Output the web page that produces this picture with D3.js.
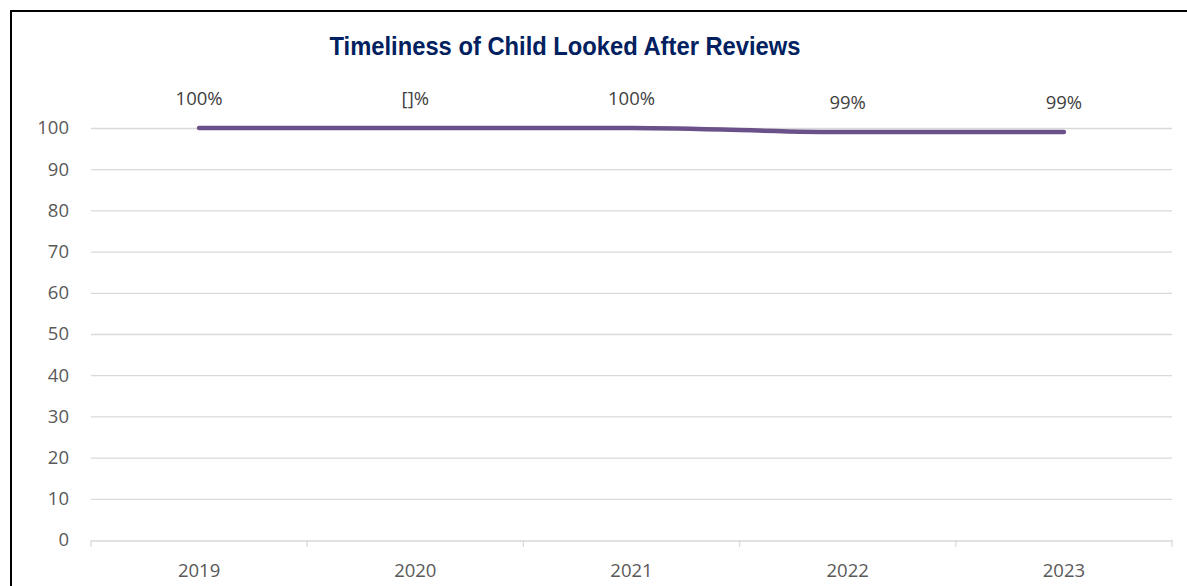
<!DOCTYPE html>
<html>
<head>
<meta charset="utf-8">
<script src="https://d3js.org/d3.v7.min.js"></script>
<style>
  body { margin: 0; background: #fff; }
  svg { display: block; }
</style>
</head>
<body>
<svg id="chart" width="1187" height="586"></svg>
<script>
const title = "Timeliness of Child Looked After Reviews";
const categories = ["2019", "2020", "2021", "2022", "2023"];
const values = [100, 100, 100, 99, 99];
const labels = ["100%", "[]%", "100%", "99%", "99%"];
const yTicks = [0, 10, 20, 30, 40, 50, 60, 70, 80, 90, 100];

const svg = d3.select("#chart");
const W = 1187, H = 586;
const m = { left: 91, right: 1172, top: 128, bottom: 540 };
const font = "'Open Sans', sans-serif";
const textColor = "#595959";
const gridColor = "#d9d9d9";
const fs = 18.5;

svg.append("rect").attr("width", W).attr("height", H).attr("fill", "#fff");

// frame (only top and left visible)
svg.append("line").attr("x1", 10).attr("x2", W).attr("y1", 11).attr("y2", 11)
  .attr("stroke", "#000").attr("stroke-width", 2);
svg.append("line").attr("x1", 11).attr("x2", 11).attr("y1", 10).attr("y2", H)
  .attr("stroke", "#000").attr("stroke-width", 2);

const x = d3.scaleBand().domain(categories).range([m.left, m.right]);
const y = d3.scaleLinear().domain([0, 100]).range([m.bottom, m.top]);

// gridlines
svg.append("g").selectAll("line").data(yTicks.filter(d => d !== 0)).join("line")
  .attr("x1", m.left).attr("x2", m.right)
  .attr("y1", d => y(d) + 0.5).attr("y2", d => y(d) + 0.5)
  .attr("stroke", gridColor).attr("stroke-width", 1.3);

// y axis labels
svg.append("g").selectAll("text").data(yTicks).join("text")
  .attr("x", 69).attr("y", d => y(d)).attr("dy", "0.35em")
  .attr("text-anchor", "end").attr("font-family", font).attr("font-size", fs)
  .attr("fill", textColor).text(d => d);

// x axis
const xAxis = d3.axisBottom(x).tickSize(0).tickFormat("");
const gx = svg.append("g").attr("transform", `translate(0,${m.bottom + 0.5})`).call(xAxis);
gx.select(".domain").attr("stroke", gridColor).attr("stroke-width", 1.3);
const bounds = categories.map(c => x(c)).concat([x(categories[categories.length - 1]) + x.bandwidth()]);
svg.append("g").selectAll("line").data(bounds).join("line")
  .attr("x1", d => d).attr("x2", d => d)
  .attr("y1", m.bottom).attr("y2", m.bottom + 7)
  .attr("stroke", gridColor).attr("stroke-width", 1.3);
svg.append("g").selectAll("text").data(categories).join("text")
  .attr("x", d => x(d) + x.bandwidth() / 2).attr("y", 577)
  .attr("text-anchor", "middle").attr("font-family", font).attr("font-size", fs)
  .attr("fill", textColor).text(d => d);

// line
const pts = categories.map((c, i) => [x(c) + x.bandwidth() / 2, y(values[i])]);
svg.append("path").datum(pts)
  .attr("d", d3.line().curve(d3.curveMonotoneX))
  .attr("fill", "none").attr("stroke", "#6a5189").attr("stroke-width", 4.5)
  .attr("stroke-linecap", "round").attr("stroke-linejoin", "round");

// data labels
svg.append("g").selectAll("text").data(categories).join("text")
  .attr("x", d => x(d) + x.bandwidth() / 2)
  .attr("y", (d, i) => y(values[i]) - 23)
  .attr("text-anchor", "middle").attr("font-family", font).attr("font-size", fs)
  .attr("fill", "#404040").text((d, i) => labels[i]);

// title
svg.append("text").attr("x", 565).attr("y", 55)
  .attr("text-anchor", "middle")
  .attr("font-family", "'Liberation Sans', Arial, sans-serif")
  .attr("font-weight", "bold").attr("font-size", 25)
  .attr("fill", "#002060")
  .attr("textLength", 471).attr("lengthAdjust", "spacingAndGlyphs")
  .text(title);
</script>
</body>
</html>
